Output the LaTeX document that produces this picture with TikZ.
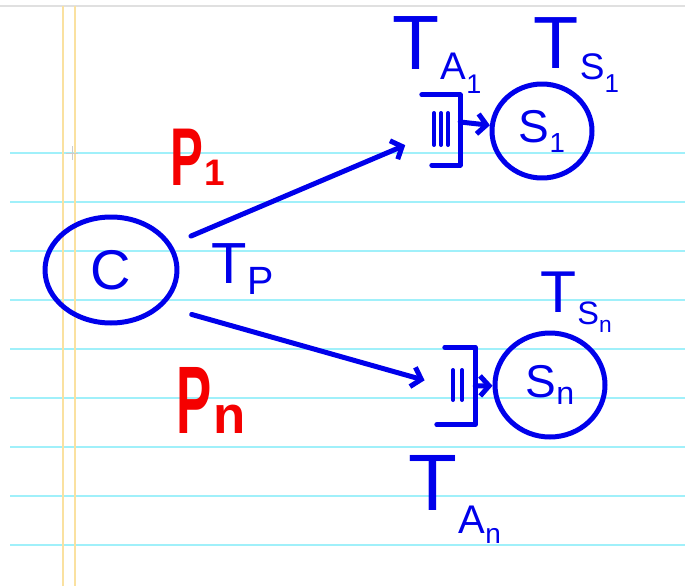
\documentclass[tikz,border=0pt]{standalone}
\usepackage{fontspec}
\setmainfont{Liberation Sans}
\usepackage{xcolor}
\usepackage{graphicx}
\usetikzlibrary{shapes.geometric, arrows.meta, positioning, calc}

\definecolor{ink}{RGB}{0,0,235}
\definecolor{redink}{RGB}{245,0,0}
\definecolor{rule}{RGB}{160,240,250}
\definecolor{margin}{RGB}{250,225,160}

% letter with a hand-written index: main, kern, drop, scale, index
\newcommand\hw[5]{#1\kern#2\raisebox{#3}{\scalebox{#4}{#5}}}

\tikzset{
  pen/.style={ink, line width=5pt, line cap=round, line join=round},
  ring/.style={ellipse, draw, pen, inner sep=0pt, text=ink},
  queue/.style={rectangle, inner sep=0pt},
  tlabel/.style={text=ink, inner sep=0pt, anchor=base west},
  plabel/.style={text=redink, inner sep=0pt, anchor=base west},
}

\begin{document}
\begin{tikzpicture}[x=1pt, y=-1pt, >={Straight Barb[length=9pt, width=20pt]}]
% Paper
\useasboundingbox (0,0) rectangle (685,586);
\fill[white] (0,0) rectangle (685,586);
\draw[black!12, line width=1.5pt] (0,6) -- (685,6);
\foreach \y in {153,202,...,545}
  \draw[rule, line width=1.5pt] (10,\y) -- (685,\y);
\draw[margin, line width=1.2pt] (63,6) -- (63,586);
\draw[margin, line width=1.2pt] (75,6) -- (75,586);
\draw[black!20, line width=1pt] (66,153) -- (78,153) (72,146) -- (72,160);

% Client and servers
\node[ring, minimum width=132pt, minimum height=106pt,
      font=\fontsize{56}{56}\selectfont] (c) at (111,270) {C};
\node[ring, minimum width=100pt, minimum height=94pt,
      font=\fontsize{46}{46}\selectfont] (s1) at (542,131) {\hw{S}{0em}{-0.22em}{0.6}{1}};
\node[ring, minimum width=110pt, minimum height=104pt,
      font=\fontsize{46}{46}\selectfont] (sn) at (550,385) {\hw{S}{0em}{-0.15em}{0.7}{n}};

% Queues
\node[queue, minimum width=38pt, minimum height=70pt] (q1) at (441,130) {};
\node[queue, minimum width=30pt, minimum height=77pt] (qn) at (460,386) {};
\draw[pen] (q1.north west) -- (q1.north east) -- (q1.south east) -- ([xshift=10pt]q1.south west);
\draw[pen] (qn.north west) -- (qn.north east) -- (qn.south east) -- ([xshift=-8pt]qn.south west);
\foreach \dx in {-7,0,7}
  \draw[pen, line width=4pt] ($(q1.center)+(\dx,-17)$) -- ++(0,32);
\foreach \dx in {-7,2}
  \draw[pen, line width=4pt] ($(qn.center)+(\dx,-16)$) -- ++(0,30);

% Paths
\draw[pen, ->, shorten <=21pt, shorten >=18pt] (c) -- (q1);
\draw[pen, ->, shorten <=30pt, shorten >=21pt] (c.-35) -- (qn.west);
\draw[pen, ->] ([yshift=8pt]q1.east) -- (s1);
\draw[pen, ->] (qn.east) -- (sn);

% Labels
\node[plabel, font=\bfseries\fontsize{82}{82}\selectfont] (p1) at (170,185) {\hw{\scalebox{0.6}[1]{P}}{0.02em}{0pt}{0.45}{1}};
\node[plabel, font=\bfseries\fontsize{96}{96}\selectfont] (pn) at (176,433) {\hw{\scalebox{0.55}[1]{P}}{0.02em}{0pt}{0.55}{n}};
\node[tlabel, font=\fontsize{58}{58}\selectfont] (tp) at (211,283) {\hw{T}{0.02em}{-0.2em}{0.68}{P}};
\node[tlabel, font=\fontsize{77}{77}\selectfont] (ta1) at (392,70) {\hw{T}{0.02em}{-0.12em}{0.5}{A\textsubscript{1}}};
\node[tlabel, font=\fontsize{74}{74}\selectfont] (ts1) at (533,68) {\hw{T}{0.02em}{-0.15em}{0.5}{S\textsubscript{1}}};
\node[tlabel, font=\fontsize{59}{59}\selectfont] (tsn) at (540,312) {\hw{T}{0.02em}{-0.22em}{0.55}{S\textsubscript{n}}};
\node[tlabel, font=\fontsize{80}{80}\selectfont] (tan) at (408,510) {\hw{T}{0.02em}{-0.29em}{0.5}{A\textsubscript{n}}};
\end{tikzpicture}
\end{document}
